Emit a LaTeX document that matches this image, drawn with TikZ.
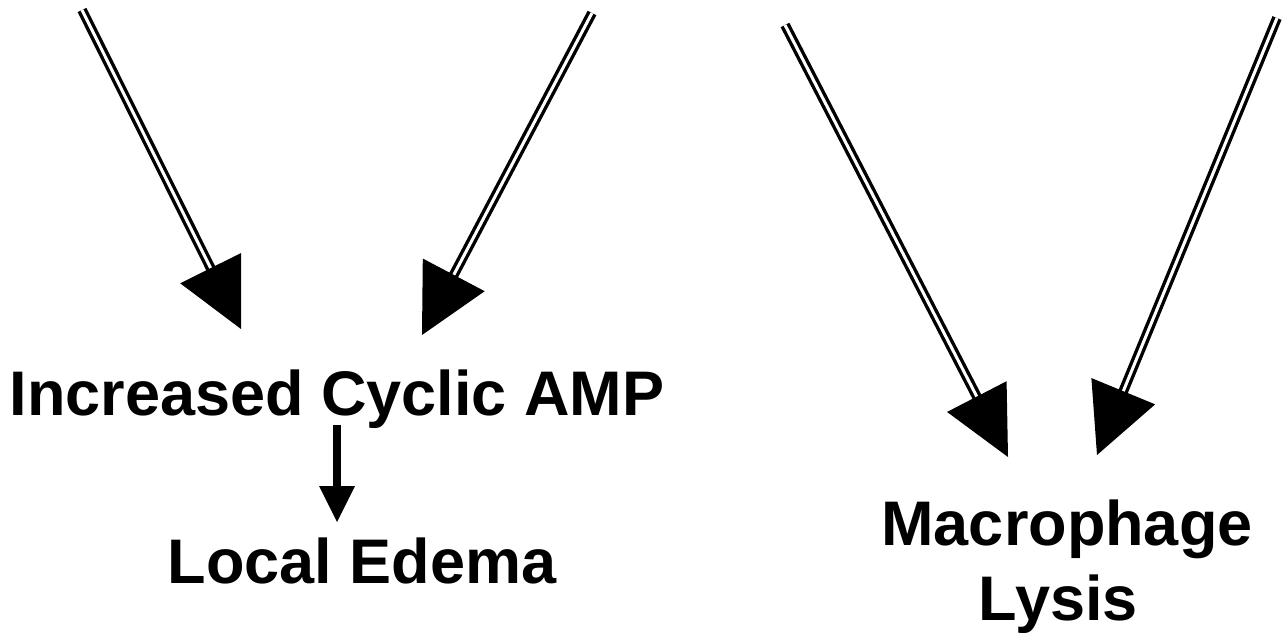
\documentclass[tikz,border=0pt]{standalone}
\usepackage{fontspec}
\setmainfont{Liberation Sans}
\usetikzlibrary{calc}

\tikzset{
  label text/.style={font=\fontsize{63}{75}\selectfont\bfseries, inner sep=0pt},
  shaft/.style={double, double distance=3pt, line width=3.4pt, draw=black},
  thin shaft/.style={line width=8pt, draw=black},
}

% Double-lined arrow from #1 to tip #2, head length #3, head width #4
\newcommand{\dblarrow}[4]{%
  \coordinate (hb) at ($(#2)!#3!(#1)$);
  \draw[shaft] (#1) -- ($(hb)!2pt!(#2)$);
  \fill ($(hb)!#4/2!90:(#2)$) -- ($(hb)!#4/2!-90:(#2)$) -- (#2) -- cycle;
}

\begin{document}
\begin{tikzpicture}[x=1pt, y=-1pt]
  \useasboundingbox (0,0) rectangle (1282,632);

  % text labels
  \node[label text, anchor=base] (camp) at (337,415) {Increased Cyclic AMP};
  \node[label text, anchor=base] (edema) at (362,583) {Local Edema};
  \node[label text, anchor=base, align=center] (lysis) at (1067,620) {Macrophage\\Lysis\hspace*{17.5pt}};

  % arrow end points
  \coordinate (s1) at (82,10);    \coordinate (t1) at (241,329);
  \coordinate (s2) at (592,13);   \coordinate (t2) at (422,335);
  \coordinate (s3) at (785,25);   \coordinate (t3) at (1008,457);
  \coordinate (s4) at (1277,18);  \coordinate (t4) at (1097,455);

  \dblarrow{s1}{t1}{68pt}{68pt}
  \dblarrow{s2}{t2}{68pt}{70pt}
  \dblarrow{s3}{t3}{68pt}{67pt}
  \dblarrow{s4}{t4}{69pt}{69pt}

  % small arrow from Cyclic AMP to Local Edema
  \coordinate (a0) at (337,425);
  \coordinate (a1) at (337,522);
  \coordinate (ab) at ($(a1)!36pt!(a0)$);
  \draw[thin shaft] (a0) -- ($(ab)!2pt!(a1)$);
  \fill ($(ab)!18pt!90:(a1)$) -- ($(ab)!18pt!-90:(a1)$) -- (a1) -- cycle;
\end{tikzpicture}
\end{document}
